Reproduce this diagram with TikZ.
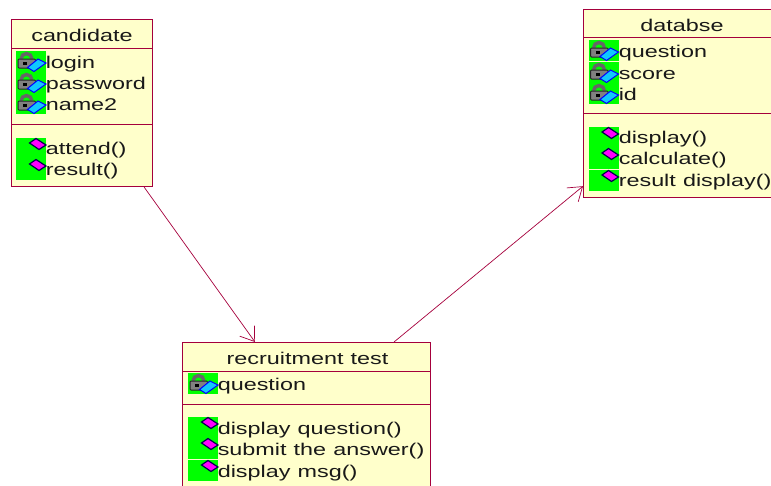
\documentclass[tikz,border=0pt]{standalone}
\usepackage{fontspec}
\setmainfont[WordSpace=1.1]{Liberation Sans}
\usetikzlibrary{arrows.meta,calc}
\definecolor{boxline}{HTML}{A5003C}
\definecolor{boxfill}{HTML}{FFFFCB}
\definecolor{iconpink}{HTML}{FF00FF}
\definecolor{iconblue}{HTML}{10C8FF}
\tikzset{
	classbox/.style={draw=boxline,fill=boxfill,line width=1.2pt,rectangle,inner sep=0pt,anchor=north west},
	sepline/.style={draw=boxline,line width=0.8pt},
	assoc/.style={draw=boxline,line width=0.7pt,-{Straight Barb[length=13pt,width=18pt,line width=0.7pt]}},
	classname/.style={font=\fontsize{17}{17}\selectfont,text=black!90,xscale=1.375,inner sep=0pt,anchor=base},
	member/.style={classname,anchor=base west},
	lockicon/.pic={
		\fill[green] (0,0) rectangle (30,21);
		\draw[black!60,line width=3.4pt] (5,8) arc[start angle=180,end angle=360,radius=5.5];
		\fill[black!50,draw=black!85,line width=1pt,rounded corners=1pt] (2,8) rectangle (19.5,17);
		\fill[black] (7,10.5) rectangle (11,13.5);
		\draw[blue,fill=iconblue,line width=1pt] (11.5,16.5)--(22,8)--(30,12)--(18,20.5)--cycle;
	},
	opicon/.pic={
		\fill[green] (0,0) rectangle (30,21);
		\draw[black!70!blue,fill=iconpink,line width=1.2pt] (13.5,5)--(20,0.5)--(30,7)--(23,11.5)--cycle;
	},
}
\begin{document}
\begin{tikzpicture}[x=1pt,y=-1pt]
	\useasboundingbox (0,0) rectangle (771,485);
	\clip (0,0) rectangle (771,485);
	% classes
	\node[classbox,minimum width=141pt,minimum height=167pt] (candidate) at (11,19) {};
	\node[classbox,minimum width=198pt,minimum height=188pt] (databse) at (583,9) {};
	\node[classbox,minimum width=248pt,minimum height=160pt] (test) at (182,342) {};
	\draw[sepline] (11,48)--(152,48);
	\draw[sepline] (11,124)--(152,124);
	\draw[sepline] (583,37)--(771,37);
	\draw[sepline] (583,113)--(771,113);
	\draw[sepline] (182,371)--(430,371);
	\draw[sepline] (182,404)--(430,404);
	\node[classname] (candidatename) at (82,41) {candidate};
	\node[classname] (databsename) at (682,31) {databse};
	\node[classname] (testname) at (307.5,364) {recruitment test};
	% candidate
	\foreach \y/\b/\txt in {51/68/login,72/89/password,93/110/name2}
		{\pic at (16,\y) {lockicon};
		\node[member] (a\y) at (45.5,\b) {\txt};}
	\foreach \y/\b/\txt in {138/154/attend(),159/175/result()}
		{\pic at (16,\y) {opicon};
		\node[member] (b\y) at (45.5,\b) {\txt};}
	% databse
	\foreach \y/\b/\txt in {40/57/question,62/79/score,83/100/id}
		{\pic at (588.5,\y) {lockicon};
		\node[member] (c\y) at (618.5,\b) {\txt};}
	\foreach \y/\b/\txt in {127/143/display(),148/164/calculate(),170/186/result display()}
		{\pic at (588.5,\y) {opicon};
		\node[member] (d\y) at (618.5,\b) {\txt};}
	% recruitment test
	\pic at (188,373) {lockicon};
	\node[member] (e373) at (217.5,390) {question};
	\foreach \y/\b/\txt in {417/434/display question(),438/455/submit the answer(),460/477/display msg()}
		{\pic at (188,\y) {opicon};
		\node[member] (f\y) at (217.5,\b) {\txt};}
	% associations
	\draw[assoc] ($(candidate.south east)+(-9,0)$)--($(test.north west)+(73,0)$);
	\draw[assoc] ($(test.north west)+(212,0)$)--($(databse.south west)+(0,-12)$);
\end{tikzpicture}
\end{document}
